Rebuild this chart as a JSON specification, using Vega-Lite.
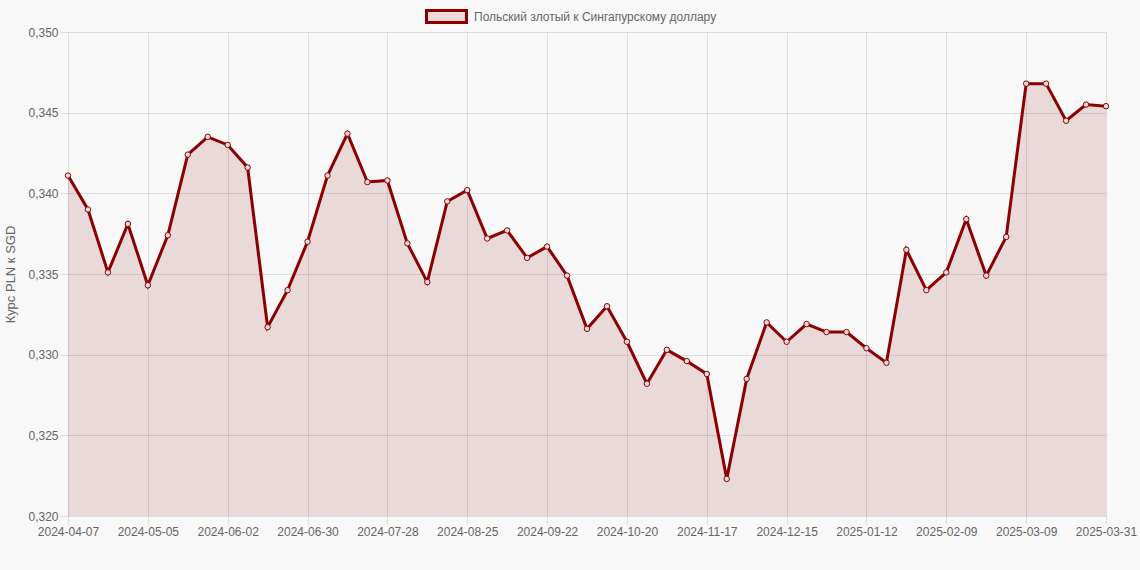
{
  "$schema": "https://vega.github.io/schema/vega-lite/v6.json",
  "width": 1038,
  "height": 484,
  "autosize": "none",
  "padding": {"left": 68, "top": 32, "right": 34, "bottom": 54},
  "background": "#f8f8f8",
  "config": {
    "view": {"stroke": null},
    "font": "Liberation Sans",
    "axis": {
      "gridColor": "#000000",
      "gridOpacity": 0.1,
      "tickColor": "#000000",
      "tickOpacity": 0.1,
      "tickSize": 8,
      "labelPadding": 2,
      "domain": false,
      "labelColor": "#666666",
      "labelFontSize": 12,
      "labelFont": "Liberation Sans",
      "titleColor": "#666666",
      "titleFont": "Liberation Sans",
      "titleFontWeight": "normal"
    }
  },
  "data": {
    "values": [
      {"date": "2024-04-07", "rate": 0.3411},
      {"date": "2024-04-14", "rate": 0.3390},
      {"date": "2024-04-21", "rate": 0.3351},
      {"date": "2024-04-28", "rate": 0.3381},
      {"date": "2024-05-05", "rate": 0.3343},
      {"date": "2024-05-12", "rate": 0.3374},
      {"date": "2024-05-19", "rate": 0.3424},
      {"date": "2024-05-26", "rate": 0.3435},
      {"date": "2024-06-02", "rate": 0.3430},
      {"date": "2024-06-09", "rate": 0.3416},
      {"date": "2024-06-16", "rate": 0.3317},
      {"date": "2024-06-23", "rate": 0.3340},
      {"date": "2024-06-30", "rate": 0.3370},
      {"date": "2024-07-07", "rate": 0.3411},
      {"date": "2024-07-14", "rate": 0.3437},
      {"date": "2024-07-21", "rate": 0.3407},
      {"date": "2024-07-28", "rate": 0.3408},
      {"date": "2024-08-04", "rate": 0.3369},
      {"date": "2024-08-11", "rate": 0.3345},
      {"date": "2024-08-18", "rate": 0.3395},
      {"date": "2024-08-25", "rate": 0.3402},
      {"date": "2024-09-01", "rate": 0.3372},
      {"date": "2024-09-08", "rate": 0.3377},
      {"date": "2024-09-15", "rate": 0.3360},
      {"date": "2024-09-22", "rate": 0.3367},
      {"date": "2024-09-29", "rate": 0.3349},
      {"date": "2024-10-06", "rate": 0.3316},
      {"date": "2024-10-13", "rate": 0.3330},
      {"date": "2024-10-20", "rate": 0.3308},
      {"date": "2024-10-27", "rate": 0.3282},
      {"date": "2024-11-03", "rate": 0.3303},
      {"date": "2024-11-10", "rate": 0.3296},
      {"date": "2024-11-17", "rate": 0.3288},
      {"date": "2024-11-24", "rate": 0.3223},
      {"date": "2024-12-01", "rate": 0.3285},
      {"date": "2024-12-08", "rate": 0.3320},
      {"date": "2024-12-15", "rate": 0.3308},
      {"date": "2024-12-22", "rate": 0.3319},
      {"date": "2024-12-29", "rate": 0.3314},
      {"date": "2025-01-05", "rate": 0.3314},
      {"date": "2025-01-12", "rate": 0.3304},
      {"date": "2025-01-19", "rate": 0.3295},
      {"date": "2025-01-26", "rate": 0.3365},
      {"date": "2025-02-02", "rate": 0.3340},
      {"date": "2025-02-09", "rate": 0.3351},
      {"date": "2025-02-16", "rate": 0.3384},
      {"date": "2025-02-23", "rate": 0.3349},
      {"date": "2025-03-02", "rate": 0.3373},
      {"date": "2025-03-09", "rate": 0.3468},
      {"date": "2025-03-16", "rate": 0.3468},
      {"date": "2025-03-23", "rate": 0.3445},
      {"date": "2025-03-30", "rate": 0.3455},
      {"date": "2025-03-31", "rate": 0.3454}
    ]
  },
  "encoding": {
    "x": {
      "field": "date",
      "type": "ordinal",
      "sort": null,
      "scale": {"type": "point", "padding": 0},
      "axis": {
        "title": null,
        "grid": true,
        "ticks": true,
        "labelAngle": 0,
        "labelOverlap": false,
        "values": ["2024-04-07", "2024-05-05", "2024-06-02", "2024-06-30", "2024-07-28", "2024-08-25", "2024-09-22", "2024-10-20", "2024-11-17", "2024-12-15", "2025-01-12", "2025-02-09", "2025-03-09", "2025-03-31"]
      }
    },
    "y": {
      "field": "rate",
      "type": "quantitative",
      "scale": {"domain": [0.32, 0.35], "zero": false, "nice": false},
      "axis": {
        "title": "Курс PLN к SGD",
        "titleFontSize": 13,
        "titlePadding": 10,
        "values": [0.32, 0.325, 0.33, 0.335, 0.34, 0.345, 0.35],
        "labelExpr": "replace(format(datum.value, '.3f'), '.', ',')"
      }
    }
  },
  "layer": [
    {
      "mark": {"type": "area", "color": "#8b0000", "fillOpacity": 0.12, "clip": true}
    },
    {
      "mark": {"type": "line", "strokeWidth": 3, "clip": true},
      "encoding": {
        "stroke": {
          "datum": "Польский злотый к Сингапурскому доллару",
          "scale": {"range": ["#8b0000"]},
          "legend": {
            "title": null,
            "orient": "none",
            "legendX": 357,
            "legendY": -37,
            "symbolType": "M-1,-0.3H1V0.3H-1Z",
            "symbolSize": 1600,
            "symbolStrokeWidth": 3,
            "symbolFillColor": "#ebdada",
            "labelFontSize": 12,
            "labelLimit": 0,
            "labelColor": "#666666",
            "labelFont": "Liberation Sans",
            "labelOffset": 6
          }
        }
      }
    },
    {
      "mark": {"type": "point", "shape": "circle", "size": 30, "filled": false, "fill": "#ebdada", "fillOpacity": 1, "stroke": "#8b0000", "strokeWidth": 1, "opacity": 1}
    }
  ]
}
